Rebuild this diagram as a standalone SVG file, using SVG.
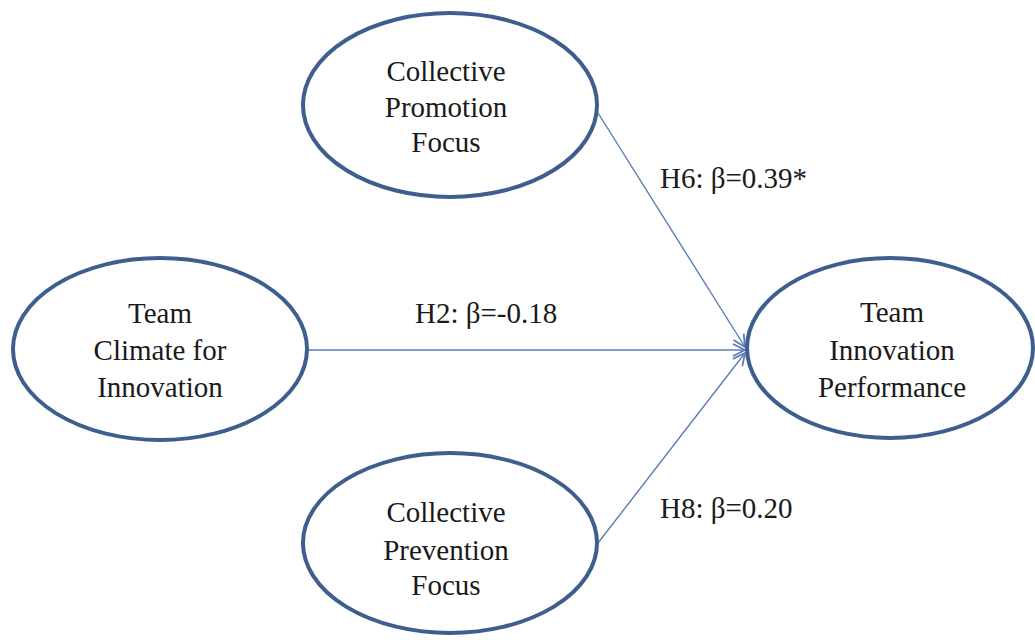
<svg xmlns="http://www.w3.org/2000/svg" width="1035" height="640" viewBox="0 0 1035 640">
  <style>
    .node { fill: #ffffff; stroke: #3d5e8e; stroke-width: 4; }
    .label { font-size: 29px; fill: #1a1a1a; text-anchor: middle; }
    .coef { font-size: 29px; fill: #1a1a1a; }
    .link { stroke: #5b7db3; stroke-width: 1.4; fill: none; marker-end: url(#chevron); }
  </style>
  <defs>
    <marker id="chevron" markerUnits="userSpaceOnUse" markerWidth="16" markerHeight="16" viewBox="0 0 16 16" refX="14" refY="8" orient="auto">
      <path d="M2,2 L14,8 L2,14" fill="none" stroke="#5b7db3" stroke-width="1.8"/>
    </marker>
  </defs>
  <rect width="1035" height="640" fill="#ffffff"/>

  <g id="connectors">
    <line class="link" x1="307" y1="350" x2="745" y2="350"/>
    <line class="link" x1="598" y1="113" x2="745" y2="347"/>
    <line class="link" x1="598" y1="543" x2="745" y2="353"/>
  </g>

  <g font-family="Liberation Serif, DejaVu Serif, serif">
    <g id="coefficients">
      <text class="coef" x="660" y="188">H6: β=0.39*</text>
      <text class="coef" x="415" y="323">H2: β=-0.18</text>
      <text class="coef" x="660" y="518">H8: β=0.20</text>
    </g>

    <g id="promotion">
      <ellipse class="node" cx="450" cy="105" rx="147" ry="92"/>
      <text class="label" x="446" y="81">Collective</text>
      <text class="label" x="446" y="117">Promotion</text>
      <text class="label" x="446" y="152">Focus</text>
    </g>

    <g id="climate">
      <ellipse class="node" cx="160" cy="349" rx="147" ry="91"/>
      <text class="label" x="160" y="323">Team</text>
      <text class="label" x="160" y="360">Climate for</text>
      <text class="label" x="160" y="397">Innovation</text>
    </g>

    <g id="performance">
      <ellipse class="node" cx="890" cy="348" rx="143" ry="90"/>
      <text class="label" x="892" y="322">Team</text>
      <text class="label" x="892" y="360">Innovation</text>
      <text class="label" x="892" y="397">Performance</text>
    </g>

    <g id="prevention">
      <ellipse class="node" cx="450" cy="543" rx="147" ry="90"/>
      <text class="label" x="446" y="522">Collective</text>
      <text class="label" x="446" y="560">Prevention</text>
      <text class="label" x="446" y="595">Focus</text>
    </g>
  </g>
</svg>
